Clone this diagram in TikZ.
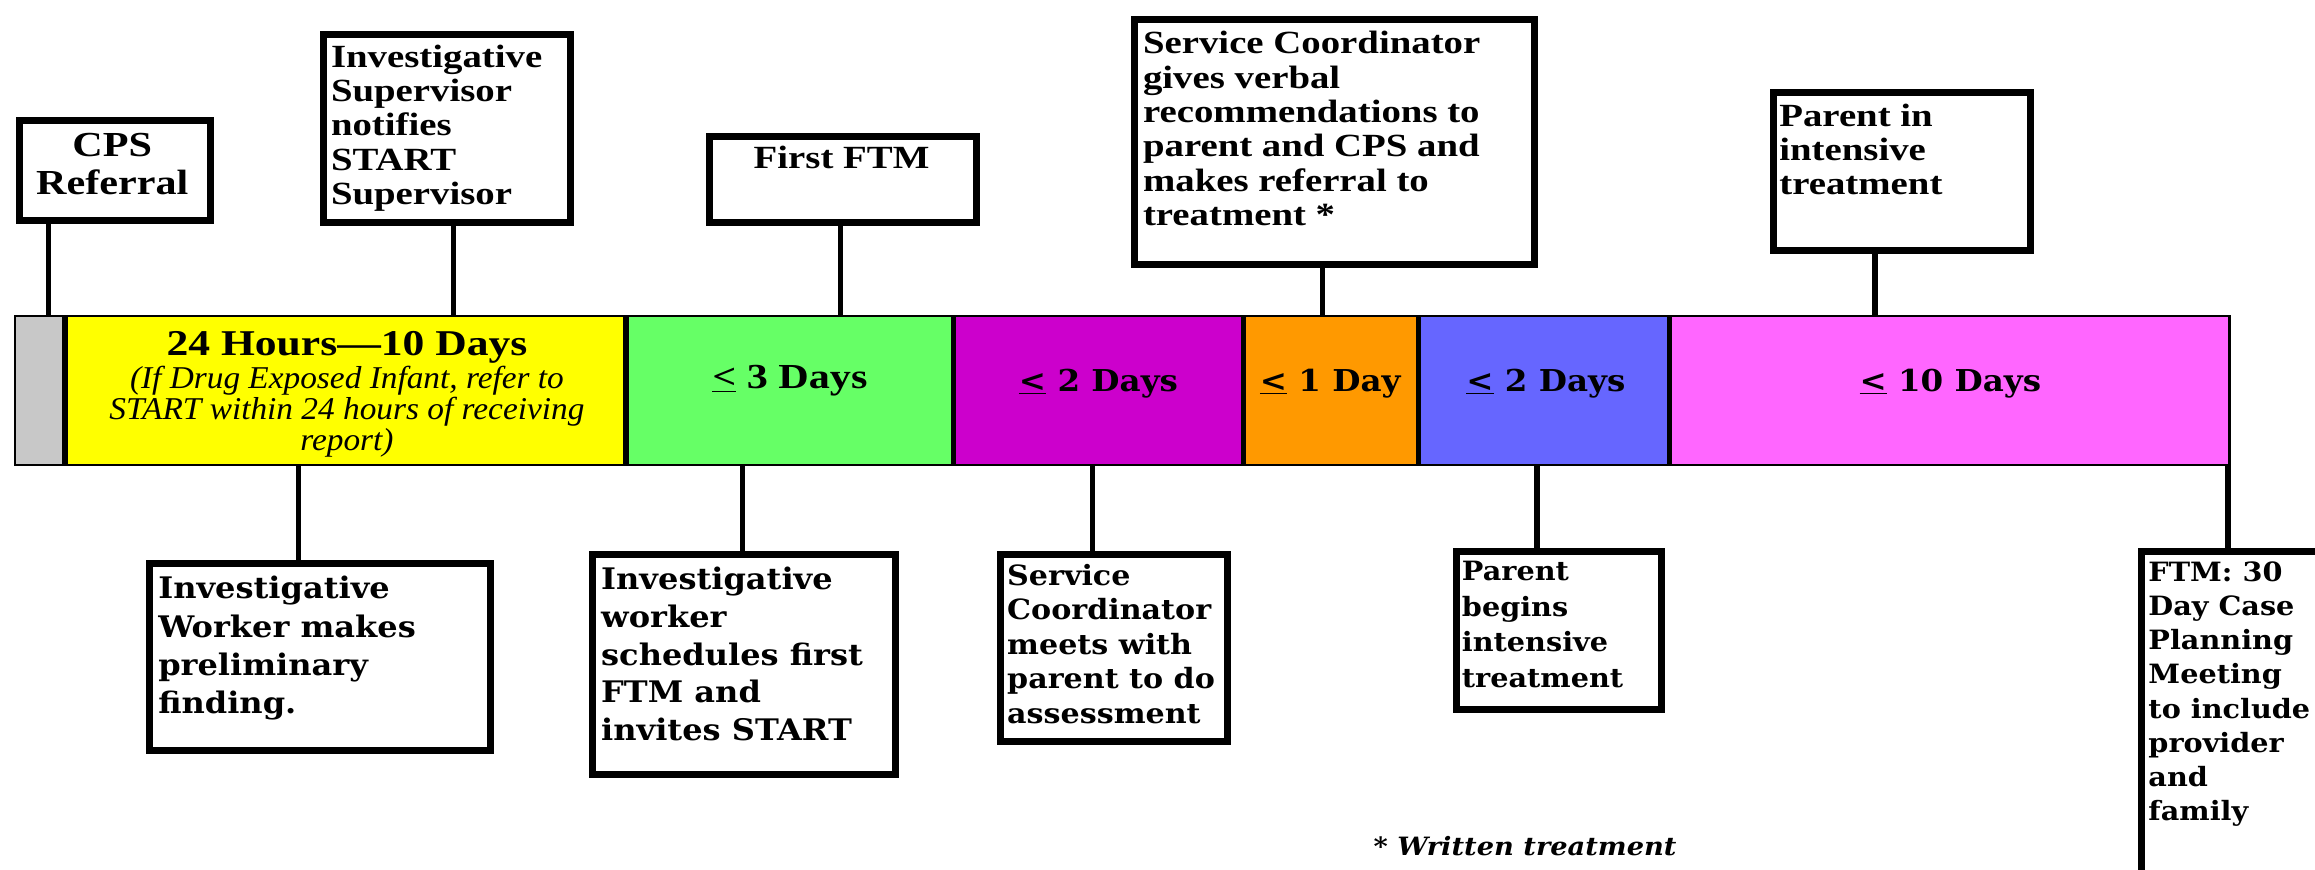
\documentclass[tikz,border=0pt]{standalone}
\usepackage{fontspec}
\newfontfamily\tnr[FakeStretch=1.2,Ligatures=TeX]{Liberation Serif}
\newfontfamily\tnrit[FakeStretch=1.05,Ligatures=TeX]{Liberation Serif}
\newfontfamily\bkm[FakeStretch=1.08,Ligatures=TeX]{DejaVu Serif}
\definecolor{cgray}{HTML}{C8C8C8}
\definecolor{cyellow}{HTML}{FFFF00}
\definecolor{cgreen}{HTML}{66FF66}
\definecolor{cpurple}{HTML}{CC00CC}
\definecolor{corange}{HTML}{FF9900}
\definecolor{cblue}{HTML}{6666FF}
\definecolor{cpink}{HTML}{FF66FF}
\tikzset{
  box/.style={draw=black, line width=4.8pt, fill=white, inner sep=0pt, anchor=north west},
  conn/.style={line width=3.5pt},
  seg/.style={inner sep=0pt, outer sep=0pt, anchor=north west, minimum height=101pt},
  toptxt/.style={font={\tnr\bfseries\fontsize{21.9}{23.3}\selectfont}, align=left, inner sep=0pt, anchor=north west},
  lowtxt/.style={align=left, inner sep=0pt, anchor=north west},
  seglbl/.style={font={\bkm\bfseries\fontsize{20.4}{24}\selectfont}, inner sep=0pt},
}
\begin{document}
\begin{tikzpicture}[x=1pt,y=-1pt]
\useasboundingbox (0,0) rectangle (1568,589);
% timeline segments
\node[seg, fill=cgray,   minimum width=34pt]  (s0) at (10,214) {};
\node[seg, fill=cyellow, minimum width=380pt] (s1) at (44,214) {};
\node[seg, fill=cgreen,  minimum width=222pt] (s2) at (424,214) {};
\node[seg, fill=cpurple, minimum width=196pt] (s3) at (646,214) {};
\node[seg, fill=corange, minimum width=119pt] (s4) at (842,214) {};
\node[seg, fill=cblue,   minimum width=170pt] (s5) at (961,214) {};
\node[seg, fill=cpink,   minimum width=379pt] (s6) at (1131,214) {};
\draw[line width=1.5pt] (s0.north west) rectangle (s6.south east);
\foreach \s in {s1,s2,s3,s4,s5,s6} \draw[line width=3.5pt] (\s.north west) -- (\s.south west);
% segment labels
\node[font={\tnr\bfseries\fontsize{24.6}{26}\selectfont}, inner sep=0pt] (l1) at (235,235) {24 Hours---10 Days};
\node[font={\tnrit\itshape\fontsize{21.5}{21}\selectfont}, align=center, inner sep=0pt, anchor=north] (l1b) at (235,248) {(If Drug Exposed Infant, refer to\\START within 24 hours of receiving\\report)};
\node[font={\tnr\bfseries\fontsize{23.8}{26}\selectfont}, inner sep=0pt] (l2) at (535,258) {\underline{<} 3 Days};
\node[seglbl] (l3) at (744,260) {\underline{<} 2 Days};
\node[seglbl] (l4) at (901,260) {\underline{<} 1 Day};
\node[seglbl] (l5) at (1047,260) {\underline{<} 2 Days};
\node[seglbl] (l6) at (1321,260) {\underline{<} 10 Days};
% top boxes
\node[box, minimum width=129pt, minimum height=68pt] (cps) at (11,79) {};
\node[font={\tnr\bfseries\fontsize{23.8}{25.5}\selectfont}, align=center, inner sep=0pt, anchor=north] (cpst) at (76,90) {CPS\\Referral};
\node[box, minimum width=167pt, minimum height=127pt] (isup) at (217,21) {};
\node[toptxt] (isupt) at (224,30) {Investigative\\Supervisor\\notifies\\START\\Supervisor};
\node[box, minimum width=181pt, minimum height=58pt] (fftm) at (478,90) {};
\node[toptxt, anchor=north, align=center] (fftmt) at (570,99) {First FTM};
\node[box, minimum width=271pt, minimum height=166pt] (scg) at (766,11) {};
\node[toptxt] (scgt) at (774,21) {Service Coordinator\\gives verbal\\recommendations to\\parent and CPS and\\makes referral to\\treatment *};
\node[box, minimum width=174pt, minimum height=107pt] (pin) at (1199,60) {};
\node[toptxt] (pint) at (1205,70) {Parent in\\intensive\\treatment};
% bottom boxes
\node[box, minimum width=231pt, minimum height=127pt] (b1) at (99,379) {};
\node[lowtxt, font={\bkm\bfseries\fontsize{20.1}{26}\selectfont}] (b1t) at (107,390) {Investigative\\Worker makes\\preliminary\\finding.};
\node[box, minimum width=205pt, minimum height=149pt] (b2) at (399,373) {};
\node[lowtxt, font={\bkm\bfseries\fontsize{20.1}{25.5}\selectfont}] (b2t) at (407,384) {Investigative\\worker\\schedules first\\FTM and\\invites START};
\node[box, minimum width=154pt, minimum height=127pt] (b3) at (675,373) {};
\node[lowtxt, font={\bkm\bfseries\fontsize{18.9}{23.3}\selectfont}] (b3t) at (682,382) {Service\\Coordinator\\meets with\\parent to do\\assessment};
\node[box, minimum width=139pt, minimum height=107pt] (b4) at (984,371) {};
\node[lowtxt, font={\bkm\bfseries\fontsize{18}{24}\selectfont}] (b4t) at (990,380) {Parent\\begins\\intensive\\treatment};
\node[box, minimum width=152pt, minimum height=249pt] (ftm) at (1448,371) {};
\node[lowtxt, font={\bkm\bfseries\fontsize{18}{23.2}\selectfont}] (ftmt) at (1455,380) {FTM: 30\\Day Case\\Planning\\Meeting\\to include\\provider\\and\\family};
% footnote
\node[font={\bkm\bfseries\itshape\fontsize{17.1}{20}\selectfont}, inner sep=0pt] (fn) at (1033,573) {* Written treatment};
% connector anchor points on the bar
\coordinate (k1) at (33,214);
\coordinate (k2) at (307,214);
\coordinate (k3) at (569,214);
\coordinate (k4) at (896,214);
\coordinate (k5) at (1270,214);
\coordinate (m1) at (202,315);
\coordinate (m2) at (503,315);
\coordinate (m3) at (740,315);
\coordinate (m4) at (1041,315);
\coordinate (m5) at (1509,315);
\draw[conn] (k1 |- cps.south) -- (k1);
\draw[conn] (k2 |- isup.south) -- (k2);
\draw[conn] (k3 |- fftm.south) -- (k3);
\draw[conn] (k4 |- scg.south) -- (k4);
\draw[conn] (k5 |- pin.south) -- (k5);
\draw[conn] (m1) -- (m1 |- b1.north);
\draw[conn] (m2) -- (m2 |- b2.north);
\draw[conn] (m3) -- (m3 |- b3.north);
\draw[conn] (m4) -- (m4 |- b4.north);
\draw[conn] (m5) -- (m5 |- ftm.north);
\end{tikzpicture}
\end{document}
